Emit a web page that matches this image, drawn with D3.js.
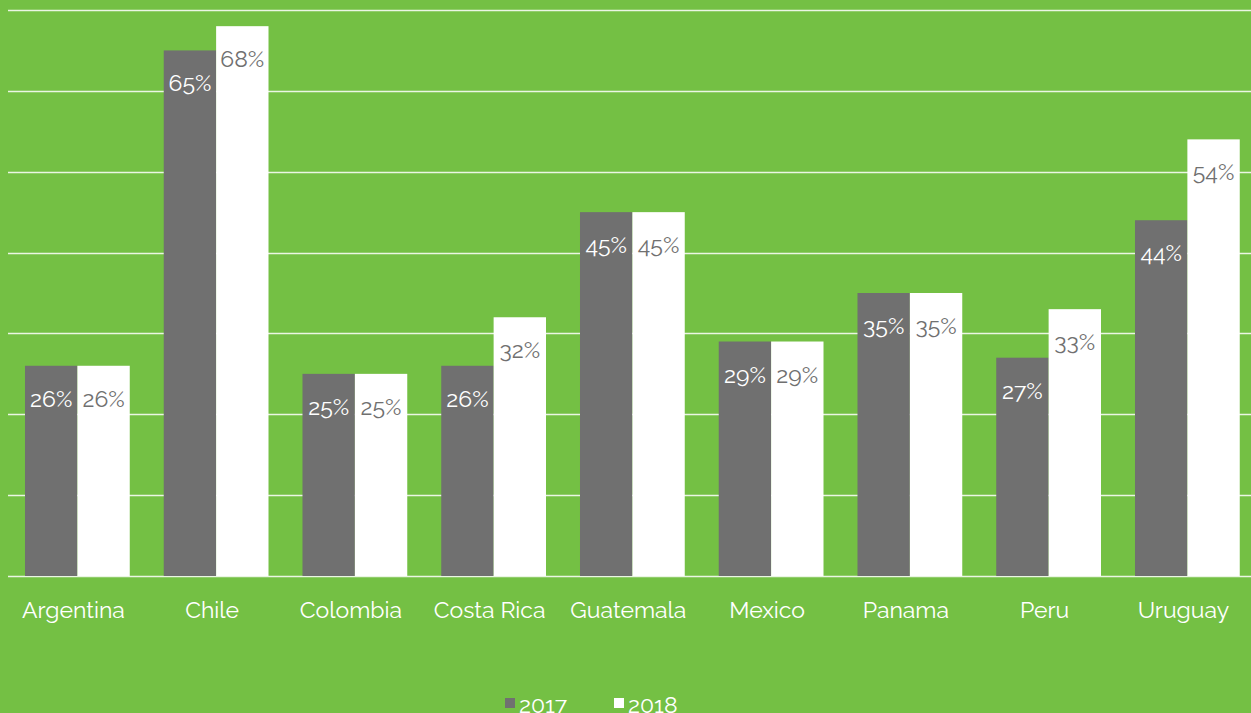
<!DOCTYPE html>
<html><head><meta charset="utf-8">
<script src="https://cdn.jsdelivr.net/npm/d3@7"></script>
<style>
html,body{margin:0;padding:0;background:#74C044;overflow:hidden;}
svg{display:block;}
text{font-family:Raleway,Lato,"Open Sans",sans-serif;}
</style></head><body>
<svg id="c" width="1251" height="713"></svg>
<script>
const categories = ["Argentina","Chile","Colombia","Costa Rica","Guatemala","Mexico","Panama","Peru","Uruguay"];
const seriesNames = ["2017","2018"];
const values2017 = [26,65,25,26,45,29,35,27,44];
const values2018 = [26,68,25,32,45,29,35,33,54];
const yTicks = [0,10,20,30,40,50,60,70];
const colors = ["#707070","#FFFFFF"];
const labelColors = ["#FFFFFF","#707070"];

const W = 1251, H = 713;
const svg = d3.select("#c");
svg.append("rect").attr("width",W).attr("height",H).attr("fill","#74C044");

const x = d3.scaleBand().domain(categories).range([8,1256.75]).paddingInner(0.245).paddingOuter(0.1225);
const xs = d3.scaleBand().domain(seriesNames).range([0,x.bandwidth()]);
const y = d3.scaleLinear().domain([0,70]).range([576,10]);

// gridlines
svg.append("g").selectAll("line").data(yTicks).join("line")
  .attr("x1",8).attr("x2",W).attr("y1",d=>Math.round(y(d))+0.5).attr("y2",d=>Math.round(y(d))+0.5)
  .attr("stroke","#FFFFFF").attr("stroke-opacity",0.85).attr("stroke-width",1.5);

const data = categories.map((c,i)=>({c, v:[values2017[i],values2018[i]]}));
const groups = svg.append("g").selectAll("g").data(data).join("g")
  .attr("transform",d=>`translate(${x(d.c)},0)`);

seriesNames.forEach((s,si)=>{
  groups.append("rect")
    .attr("x",xs(s)).attr("width",xs.bandwidth())
    .attr("y",d=>y(d.v[si])).attr("height",d=>y(0)-y(d.v[si]))
    .attr("fill",colors[si]);
  groups.append("text")
    .attr("x",xs(s)+xs.bandwidth()/2).attr("y",d=>y(d.v[si])+41)
    .attr("text-anchor","middle").attr("font-size",23).attr("fill",labelColors[si])
    .text(d=>d.v[si]+"%");
});

// x axis labels
svg.append("g").selectAll("text").data(categories).join("text")
  .attr("x",d=>x(d)+x.bandwidth()/2-4).attr("y",618)
  .attr("text-anchor","middle").attr("font-size",23).attr("fill","#FFFFFF")
  .text(d=>d);

// legend
const leg = svg.append("g");
const legX = [505,614];
seriesNames.forEach((s,i)=>{
  leg.append("rect").attr("x",legX[i]).attr("y",698).attr("width",10).attr("height",10).attr("fill",colors[i]);
  leg.append("text").attr("x",legX[i]+14).attr("y",713).attr("font-size",23).attr("fill","#FFFFFF").text(s);
});
</script>
</body></html>
